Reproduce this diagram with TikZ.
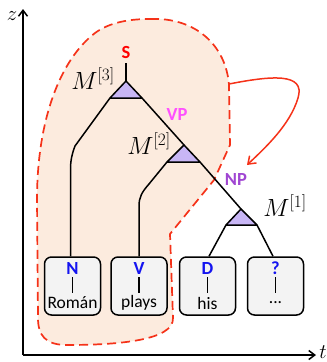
\documentclass[tikz,border=0pt]{standalone}
\usepackage{fontspec}
\newfontfamily\carfont{Carlito}
\usetikzlibrary{arrows.meta}
\definecolor{regfill}{RGB}{252,235,222}
\definecolor{regred}{RGB}{245,50,25}
\definecolor{trifill}{RGB}{200,182,245}
\definecolor{boxfill}{RGB}{243,243,243}
\definecolor{catblue}{RGB}{20,20,240}
\definecolor{vpcol}{RGB}{255,80,255}
\definecolor{npcol}{RGB}{160,70,210}
\tikzset{
  edge/.style={line width=1.5pt, black},
  tri/.style={line width=1.5pt, fill=trifill, line join=round},
  wordbox/.style={draw, line width=1.5pt, fill=boxfill, rounded corners=7pt, minimum width=56pt, minimum height=58pt, inner sep=0pt},
  cat/.style={font=\carfont\bfseries\fontsize{18.5}{20}\selectfont, inner sep=0pt, text=catblue},
  word/.style={font=\carfont\fontsize{17.5}{19}\selectfont, inner sep=0pt},
  bar/.style={line width=1.5pt},
  mlab/.style={font=\fontsize{24}{26}\selectfont, inner sep=0pt},
  axis/.style={line width=1.5pt, -{Straight Barb[length=6pt,width=9pt,line width=1.5pt]}},
}
\begin{document}
\begin{tikzpicture}[x=1pt,y=-1pt]
\useasboundingbox (0,0) rectangle (327,362);
% region
\draw[regred, fill=regfill, line width=1.7pt, dash pattern=on 9pt off 5pt]
  (150,19) .. controls (195,17) and (226,45) .. (229,85)
  -- (230,145) -- (214,180) -- (170,234) -- (173,318)
  .. controls (174,340) and (120,345) .. (67,345)
  .. controls (45,345) and (38,335) .. (38,318)
  -- (37,200)
  .. controls (37,120) and (60,60) .. (95,33)
  .. controls (110,22) and (130,19) .. (150,19) -- cycle;
\coordinate (rstart) at (229,84);
\coordinate (rend) at (247,165);
\draw[regred, line width=1.5pt, -{Straight Barb[length=7pt,width=10pt,line width=1.5pt]}]
  (rstart) .. controls (270,76) and (306,72) .. (298,98)
  .. controls (290,125) and (265,148) .. (rend);
% axes
\coordinate (o) at (23,355);
\coordinate (ztip) at (23,9);
\coordinate (ttip) at (316,355);
\draw[axis] (o) -- (ztip);
\draw[axis] (o) -- (ttip);
\node[font=\fontsize{22}{24}\selectfont, inner sep=0pt] (zl) at (12,16) {$z$};
\node[font=\fontsize{22}{24}\selectfont, inner sep=0pt] (tl) at (323,352) {$t$};
% triangle coordinates
\coordinate (a3) at (126,81); \coordinate (l3) at (110,98); \coordinate (r3) at (142,98);
\coordinate (a2) at (184,145); \coordinate (l2) at (167,162); \coordinate (r2) at (200,162);
\coordinate (a1) at (241,209); \coordinate (l1) at (226,225); \coordinate (r1) at (257,225);
\coordinate (stop) at (126,63);
% boxes
\node[wordbox] (bN) at (72.5,286) {};
\node[wordbox] (bV) at (139,286) {};
\node[wordbox] (bD) at (207.5,286) {};
\node[wordbox] (bQ) at (275.5,286) {};
% edges
\draw[edge] (stop) -- (a3);
\draw[edge] (r3) -- (a2);
\draw[edge] (r2) -- (a1);
\draw[edge] (l3) -- (75,146) .. controls (72,154) and (70.5,160) .. (70.5,170) -- (bN.north -| 70.5,0);
\draw[edge] (l2) -- (149,184) .. controls (142,192) and (139,197) .. (139,206) -- (bV.north);
\draw[edge] (l1) -- (bD.north -| 209,0);
\draw[edge] (r1) -- (bQ.north -| 273,0);
\draw[tri] (a3) -- (l3) -- (r3) -- cycle;
\draw[tri] (a2) -- (l2) -- (r2) -- cycle;
\draw[tri] (a1) -- (l1) -- (r1) -- cycle;
% labels
\node[cat, text=red] (S) at (126,52) {S};
\node[cat, text=vpcol] (VP) at (177,114) {VP};
\node[cat, text=npcol] (NP) at (236,179) {NP};
\node[mlab] (M3) at (93,79) {$M^{[3]}$};
\node[mlab] (M2) at (149,144) {$M^{[2]}$};
\node[mlab] (M1) at (285,206) {$M^{[1]}$};
% box contents
\node[cat] (cN) at (72.5,268) {N};
\node[word] (wN) at (72.5,303) {Román};
\node[cat] (cV) at (139,268) {V};
\node[word] (wV) at (139,303) {plays};
\node[cat] (cD) at (207.5,268) {D};
\node[word] (wD) at (207.5,303) {his};
\node[cat] (cQ) at (275.5,268) {?};
\node[word] (wQ) at (275.5,303) {...};
\draw[bar] ([yshift=-9pt]cN.center) -- ([yshift=10pt]wN.center);
\draw[bar] ([yshift=-9pt]cV.center) -- ([yshift=10pt]wV.center);
\draw[bar] ([yshift=-9pt]cD.center) -- ([yshift=10pt]wD.center);
\draw[bar] ([yshift=-9pt]cQ.center) -- ([yshift=10pt]wQ.center);
\end{tikzpicture}
\end{document}
